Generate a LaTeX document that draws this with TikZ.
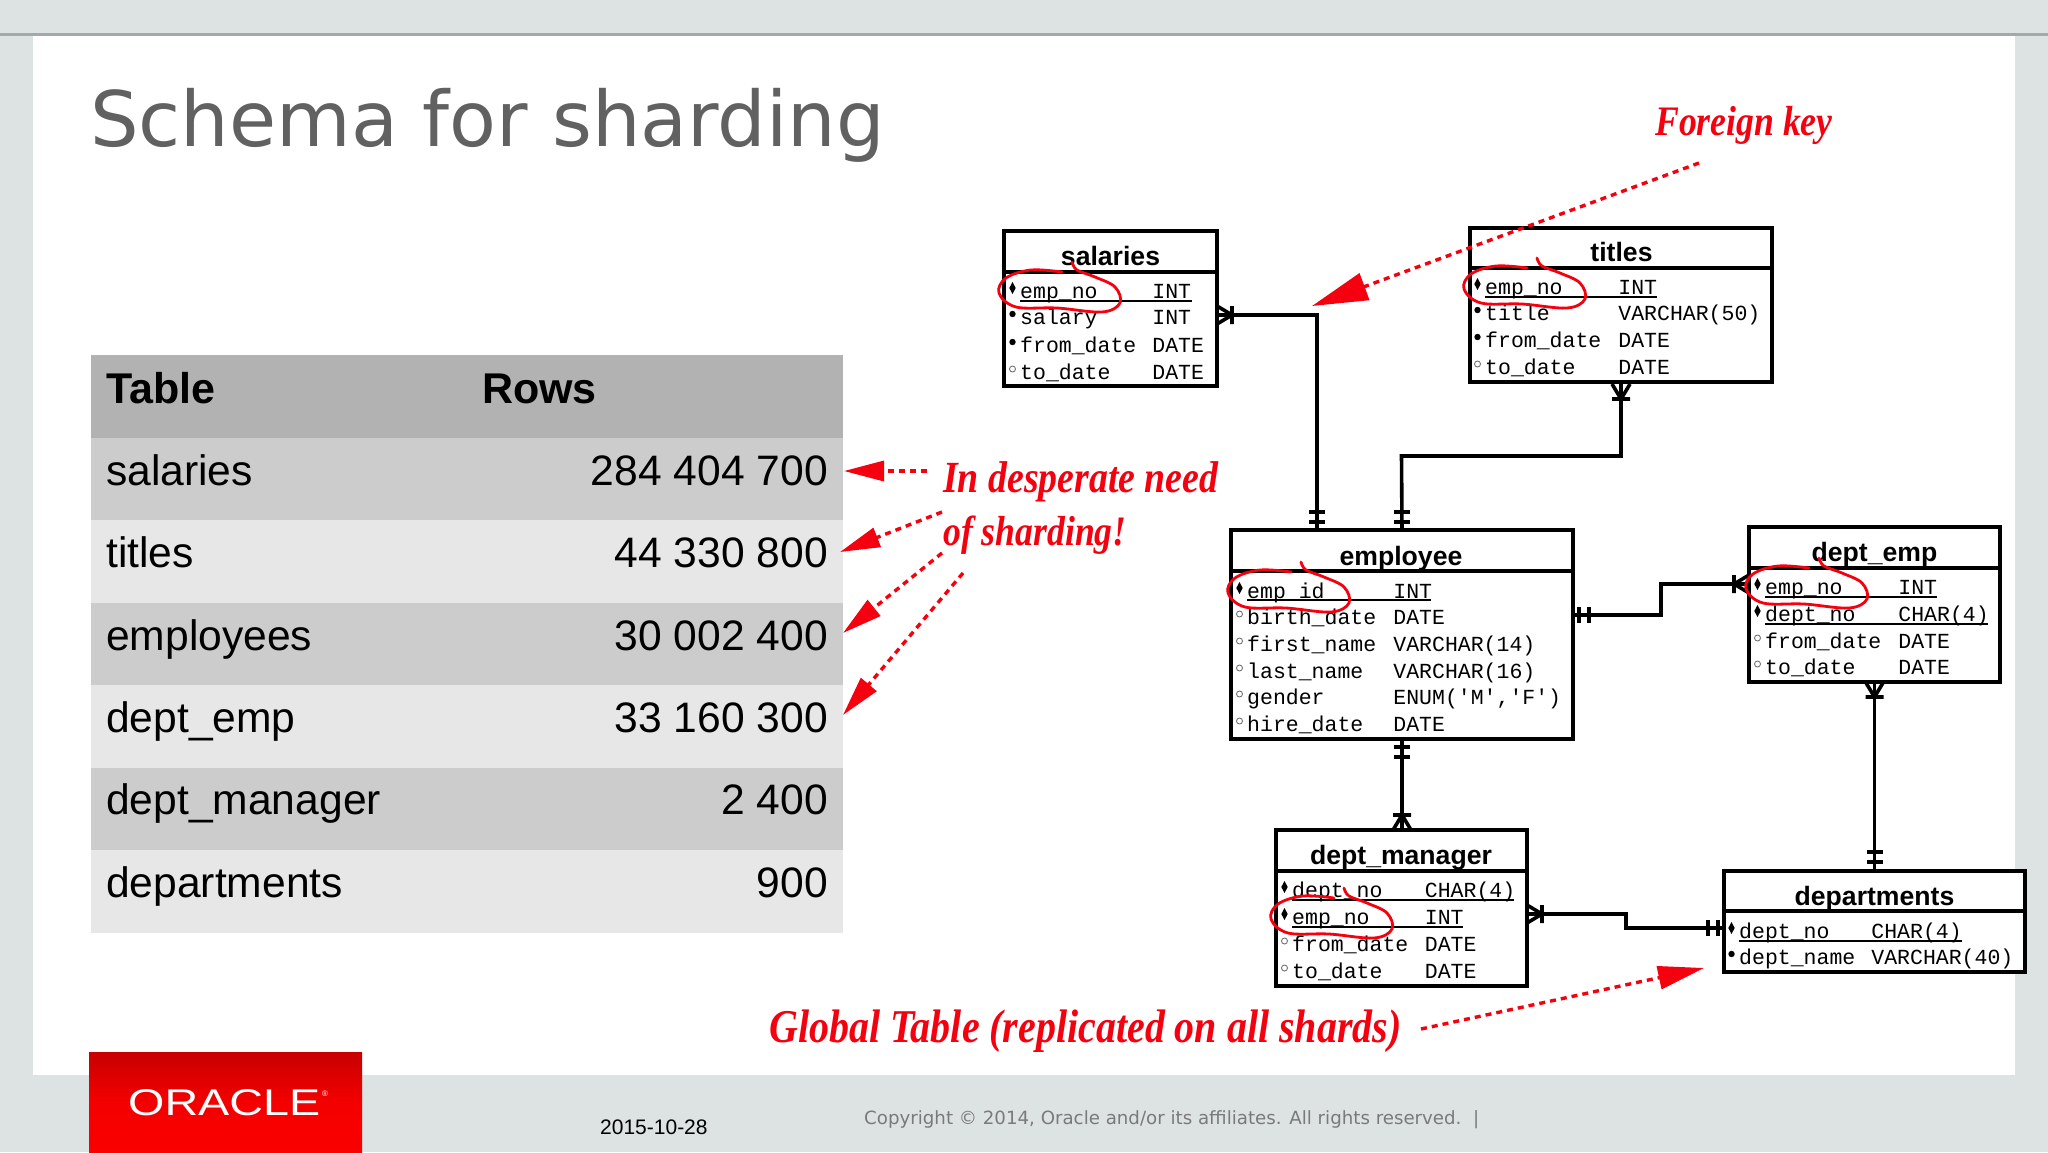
\documentclass[tikz,border=0pt]{standalone}
\usepackage{fontspec}
\usetikzlibrary{arrows.meta}
\setmainfont{Liberation Sans}
\newfontfamily\monof{Liberation Mono}
\newfontfamily\titlef{DejaVu Sans}
\newfontfamily\handf{Liberation Serif}[FakeStretch=0.85]
\definecolor{slidebg}{HTML}{DDE2E3}
\definecolor{rulegray}{HTML}{A3A8A8}
\definecolor{headrow}{HTML}{B1B2B1}
\definecolor{darkrow}{HTML}{CBCCCB}
\definecolor{lightrow}{HTML}{E6E7E6}
\definecolor{hand}{HTML}{F5000F}
\definecolor{logotop}{HTML}{C80000}
\definecolor{logomid}{HTML}{F40000}
\definecolor{logobot}{HTML}{FA0000}
\newcounter{autoname}
\tikzset{
  x=1pt,y=-1pt,
  erbox/.style={draw=black,line width=3.4pt,rectangle,inner sep=0,outer sep=0,fill=white,anchor=north west},
  erline/.style={draw=black,line width=3.4pt,line cap=butt,line join=miter},
  conn/.style={draw=black,line width=3.6pt,line join=miter},
  mono/.style={anchor=base west,inner sep=0,font=\monof\fontsize{21.5}{21.5}\selectfont},
  ertitle/.style={anchor=base,inner sep=0,font=\bfseries\fontsize{26.6}{26.6}\selectfont},
  celltext/.style={anchor=base west,inner sep=0,font=\fontsize{42.6}{42.6}\selectfont},
  cellnum/.style={anchor=base east,inner sep=0,font=\fontsize{42.6}{42.6}\selectfont},
  cellhead/.style={anchor=base west,inner sep=0,font=\bfseries\fontsize{43}{43}\selectfont},
  redarrow/.style={draw=hand,line width=3.4pt,dash pattern=on 6pt off 5pt,-{Triangle[length=#1,width=#1*0.5,fill=hand,sep=0pt]}},
  redarrow/.default=40pt,
  handtext/.style={anchor=base west,inner sep=0,text=hand,font=\handf\bfseries\itshape\fontsize{#1}{#1}\selectfont},
  redloop/.style={draw=hand,line width=2.8pt,line cap=round},
  tablerow/.style={rectangle,inner sep=0,outer sep=0,minimum width=752pt,minimum height=82.6pt,anchor=north west,draw=none}
}
% marker: 0 diamond, 1 dot, 2 ring
\newcommand{\mrk}[3]{%
  \ifcase#3\relax
    \fill[black] (#1,#2-6) -- (#1+3.2,#2) -- (#1,#2+6) -- (#1-3.2,#2) -- cycle;
  \or
    \fill[black] (#1,#2) circle[radius=3.2];
  \or
    \draw[black!55,line width=.9pt] (#1,#2) circle[radius=3];
  \fi}
% \erow{textx}{typex}{centre y}{marker}{name}{type}
\newcommand{\erow}[6]{%
  \stepcounter{autoname}%
  \mrk{#1-7.5}{#3-4}{#4}%
  \node[mono] (r\arabic{autoname}a) at (#1,#3+6.5) {#5};%
  \stepcounter{autoname}%
  \node[mono] (r\arabic{autoname}b) at (#2-0.8,#3+6.5) {#6};}
\newcommand{\ul}[3]{\draw[black,line width=1.4pt] (#1,#3) -- (#2,#3);}
\newcommand{\crowfoot}[2]{\draw[conn,shift={(#1)},rotate=#2] (0,-9) -- (15,0) -- (0,9) (15,-9) -- (15,9);}
\newcommand{\twobars}[2]{\draw[conn,shift={(#1)},rotate=#2] (0,-8) -- (0,8) (10,-8) -- (10,8);}
\newcommand{\hloop}[2]{\draw[redloop,shift={(#1,#2)}] plot[smooth,tension=.6] coordinates {(42,-20)(11,-22)(-14,-14)(-21,1)(-4,15)(37,16)(82,20)(100,11)(95,-5)(75,-15)(57,-22)(52,-30)};}
\begin{document}
\begin{tikzpicture}
\useasboundingbox (0,0) rectangle (2048,1152);
\fill[slidebg] (0,0) rectangle (2048,1152);
\fill[white] (33,35) rectangle (2015,1075);
\draw[rulegray,line width=3pt] (0,34) -- (2048,34);
% title
\node[anchor=base west,inner sep=0,text=black!62,font=\titlef\fontsize{76.6}{76.6}\selectfont] (slidetitle) at (90,146) {Schema for sharding};
% table
\node[tablerow,fill=headrow] (row0) at (91,355) {};
\node[tablerow,fill=darkrow] (row1) at (91,437.5) {};
\node[tablerow,fill=lightrow] (row2) at (91,520) {};
\node[tablerow,fill=darkrow] (row3) at (91,602.5) {};
\node[tablerow,fill=lightrow] (row4) at (91,685) {};
\node[tablerow,fill=darkrow] (row5) at (91,767.5) {};
\node[tablerow,fill=lightrow] (row6) at (91,850) {};
\node[cellhead] (h1) at (106,403) {Table};
\node[cellhead] (h2) at (482,403) {Rows};
\node[celltext] (c1) at (106,485) {salaries};
\node[cellnum] (n1) at (828,485) {284 404 700};
\node[celltext] (c2) at (106,567) {titles};
\node[cellnum] (n2) at (828,567) {44 330 800};
\node[celltext] (c3) at (106,650) {employees};
\node[cellnum] (n3) at (828,650) {30 002 400};
\node[celltext] (c4) at (106,732) {dept\_emp};
\node[cellnum] (n4) at (828,732) {33 160 300};
\node[celltext] (c5) at (106,814) {dept\_manager};
\node[cellnum] (n5) at (828,814) {2 400};
\node[celltext] (c6) at (106,897) {departments};
\node[cellnum] (n6) at (828,897) {900};
% ER boxes
\node[erbox,minimum width=213pt,minimum height=155pt] (salaries) at (1004,231) {};
\node[erbox,minimum width=302pt,minimum height=154pt] (titles) at (1470,228) {};
\node[erbox,minimum width=342pt,minimum height=209pt] (employee) at (1231,530) {};
\node[erbox,minimum width=251pt,minimum height=155pt] (deptemp) at (1749,527) {};
\node[erbox,minimum width=251pt,minimum height=156pt] (deptmanager) at (1276,830) {};
\node[erbox,minimum width=301pt,minimum height=101pt] (departments) at (1724,871) {};
\draw[erline] (salaries.west |- 0,272) -- (salaries.east |- 0,272);
\draw[erline] (titles.west |- 0,268) -- (titles.east |- 0,268);
\draw[erline] (employee.west |- 0,571) -- (employee.east |- 0,571);
\draw[erline] (deptemp.west |- 0,568) -- (deptemp.east |- 0,568);
\draw[erline] (deptmanager.west |- 0,871) -- (deptmanager.east |- 0,871);
\draw[erline] (departments.west |- 0,911) -- (departments.east |- 0,911);
\node[ertitle] (ts) at (1110.5,265) {salaries};
\node[ertitle] (tt) at (1621.5,261) {titles};
\node[ertitle] (te) at (1401,565) {employee};
\node[ertitle] (td) at (1874.5,561) {dept\_emp};
\node[ertitle] (tm) at (1401,864) {dept\_manager};
\node[ertitle] (tp) at (1874.5,905) {departments};
% rows
\erow{1020}{1153}{292}{0}{emp\_no}{INT}
\erow{1020}{1153}{318}{1}{salary}{INT}
\erow{1020}{1153}{346}{1}{from\_date}{DATE}
\erow{1020}{1153}{373}{2}{to\_date}{DATE}
\ul{1020}{1192}{301}
\erow{1485}{1619}{288}{0}{emp\_no}{INT}
\erow{1485}{1619}{314}{1}{title}{VARCHAR(50)}
\erow{1485}{1619}{341}{1}{from\_date}{DATE}
\erow{1485}{1619}{368}{2}{to\_date}{DATE}
\ul{1485}{1657}{297}
\erow{1247}{1394}{592}{0}{emp\_id}{INT}
\erow{1247}{1394}{618}{2}{birth\_date}{DATE}
\erow{1247}{1394}{645}{2}{first\_name}{VARCHAR(14)}
\erow{1247}{1394}{672}{2}{last\_name}{VARCHAR(16)}
\erow{1247}{1394}{698}{2}{gender}{ENUM('M','F')}
\erow{1247}{1394}{725}{2}{hire\_date}{DATE}
\ul{1247}{1431}{600}
\erow{1765}{1899}{588}{0}{emp\_no}{INT}
\erow{1765}{1899}{615}{0}{dept\_no}{CHAR(4)}
\erow{1765}{1899}{642}{2}{from\_date}{DATE}
\erow{1765}{1899}{668}{2}{to\_date}{DATE}
\ul{1765}{1937}{597}
\ul{1765}{1988}{624}
\erow{1292}{1425.5}{891}{0}{dept\_no}{CHAR(4)}
\erow{1292}{1425.5}{918}{0}{emp\_no}{INT}
\erow{1292}{1425.5}{945}{2}{from\_date}{DATE}
\erow{1292}{1425.5}{972}{2}{to\_date}{DATE}
\ul{1292}{1514}{900}
\ul{1292}{1463}{927}
\erow{1739}{1872}{932}{0}{dept\_no}{CHAR(4)}
\erow{1739}{1872}{958}{1}{dept\_name}{VARCHAR(40)}
\ul{1739}{1962}{941}
% connectors
\draw[conn] ([yshift=-6.5pt]salaries.east) -| ([xshift=-85pt]employee.north);
\draw[conn] (titles.south) |- (1401.5,456) -- (employee.north);
\draw[conn] ([yshift=19.5pt]employee.east) -- (1661,615) |- ([yshift=20.5pt]deptemp.west);
\draw[conn] (deptemp.south) -- (departments.north -| deptemp.south);
\draw[conn] (employee.south) -- (employee.south |- deptmanager.north);
\draw[conn] ([yshift=-6pt]deptmanager.east) -- (1626,914) |- ([yshift=-6.5pt]departments.west);
\crowfoot{1217,315}{0}
\twobars{1317,522}{90}
\twobars{1402,522}{90}
\crowfoot{1621,384}{-90}
\twobars{1579,615}{0}
\crowfoot{1749,584}{180}
\crowfoot{1874.5,682}{-90}
\twobars{1874.5,862}{90}
\twobars{1402,747}{-90}
\crowfoot{1402,830}{90}
\crowfoot{1527,914}{0}
\twobars{1718,928}{180}
% red annotations
\hloop{1020}{292}
\hloop{1485}{288}
\hloop{1249}{592}
\hloop{1767}{588}
\hloop{1292}{918}
\node[handtext=42] (fk) at (1655,135) {Foreign key};
\node[handtext=44.5] (need1) at (943,492) {In desperate need};
\node[handtext=42] (need2) at (943,545) {of sharding!};
\node[handtext=47] (glob) at (769,1042) {Global Table (replicated on all shards)};
\coordinate (fkstart) at (1699,163);
\coordinate (fktip) at (1312,306);
\draw[redarrow=56pt] (fkstart) -- (fktip);
\coordinate (a1s) at (927,471); \coordinate (a1e) at (844,471);
\coordinate (a2s) at (942,512); \coordinate (a2e) at (840,552);
\coordinate (a3s) at (942,553); \coordinate (a3e) at (843,633);
\coordinate (a4s) at (963,573); \coordinate (a4e) at (843,715);
\draw[redarrow] (a1s) -- (a1e);
\draw[redarrow] (a2s) -- (a2e);
\draw[redarrow] (a3s) -- (a3e);
\draw[redarrow] (a4s) -- (a4e);
\coordinate (gs) at (1421,1029); \coordinate (ge) at (1704,968);
\draw[redarrow=46pt] (gs) -- (ge);
% footer
\shade[top color=logotop,bottom color=logobot,middle color=logomid] (89,1052) rectangle (362,1152);
\node[inner sep=0,text=white,anchor=base west] (logotext) at (128,1115) {\resizebox{192pt}{26pt}{\fontsize{30}{30}\selectfont ORACLE}};
\node[anchor=base west,inner sep=0,text=white,font=\fontsize{8}{8}\selectfont] (logoreg) at (322,1096) {®};
\node[anchor=base west,inner sep=0,font=\fontsize{21}{21}\selectfont] (date) at (600,1134) {2015-10-28};
\node[anchor=base west,inner sep=0,text=black!52,font=\titlef\fontsize{18.2}{18.2}\selectfont] (copy) at (864,1124) {Copyright © 2014, Oracle and/or its affiliates. All rights reserved.\ \ |};
\end{tikzpicture}
\end{document}
